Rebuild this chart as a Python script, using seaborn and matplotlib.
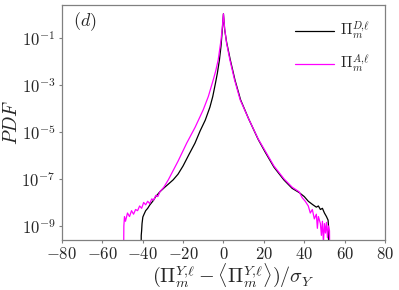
import numpy as np
import pandas as pd
import matplotlib
matplotlib.use("Agg")
import matplotlib.pyplot as plt
import seaborn as sns

# values (x in units of sigma_Y, PDF as log10)
x_D = [-40.8, -40.7, -40.5, -40.3, -39.9, -39.3, -38.5, -37.5, -36.4, -35.0,
       -33.5, -31.4, -29.0, -27.0, -24.9, -22.5, -20.0, -17.0, -14.1, -11.5,
       -9.0, -6.7, -5.3, -4.0, -3.0, -2.0, -1.2, -0.6, 0.0,
       0.6, 1.6, 3.4, 5.7, 8.5, 12.5, 17.2, 20.6, 25.0, 30.0, 34.0, 37.5,
       40.0, 42.0, 44.3, 46.0, 47.0, 48.0, 49.0, 50.0, 51.0, 51.8, 52.0, 52.1]
logpdf_D = [-11.0, -9.4, -9.2, -8.9, -8.62, -8.5, -8.35, -8.25, -8.1, -7.95,
            -7.75, -7.54, -7.35, -7.2, -7.04, -6.8, -6.45, -5.95, -5.48, -4.95,
            -4.5, -3.95, -3.5, -2.95, -2.5, -1.95, -1.35, -0.7, 0.02,
            -0.65, -1.2, -1.94, -2.79, -3.64, -4.45, -5.32, -5.85, -6.5, -7.05, -7.4, -7.58,
            -7.75, -7.95, -8.1, -8.2, -8.15, -8.3, -8.25, -8.45, -8.6, -8.75, -9.0, -11.0]

x_A = [-49.5, -49.3, -49.0, -48.5, -47.5, -46.5, -45.5, -44.5, -43.5, -42.5,
       -41.5, -40.5, -39.5, -38.5, -37.5, -36.5, -35.5, -34.5, -33.5, -32.5,
       -31.4, -29.5, -27.3, -22.5, -18.2, -14.0, -10.0, -7.5, -5.05, -3.8,
       -2.6, -1.2, -0.6, 0.0,
       0.6, 1.5, 3.2, 5.5, 8.3, 12.5, 17.2, 20.6, 25.0, 30.0, 34.0, 37.5,
       39.0, 40.5, 42.0, 43.0, 44.0, 45.0, 46.0, 46.5, 47.0, 48.0, 48.5, 49.0,
       49.5, 50.0, 50.5, 51.0, 51.5, 52.0, 52.5, 52.7]
logpdf_A = [-11.0, -9.0, -8.6, -8.8, -8.45, -8.6, -8.35, -8.5, -8.3, -8.35,
            -8.15, -8.25, -8.0, -8.1, -7.95, -8.05, -7.85, -7.9, -7.7, -7.75,
            -7.54, -7.35, -7.04, -6.25, -5.48, -4.8, -4.06, -3.5, -2.79, -2.4,
            -1.94, -1.1, -0.6, 0.02,
            -0.6, -1.2, -1.94, -2.79, -3.64, -4.45, -5.3, -5.8, -6.45, -7.0, -7.35, -7.55,
            -7.8, -7.95, -8.15, -8.45, -8.3, -8.7, -8.5, -9.1, -8.6, -8.9, -9.4, -8.8,
            -9.7, -8.9, -9.3, -8.85, -9.5, -9.0, -9.2, -11.0]

label_D = r"$\Pi_m^{D{,}\ell}$"
label_A = r"$\Pi_m^{A{,}\ell}$"
xticks = [-80, -60, -40, -20, 0, 20, 40, 60, 80]
yticks = [1e-1, 1e-3, 1e-5, 1e-7, 1e-9]
ytick_labels = [r"$10^{-1}$", r"$10^{-3}$", r"$10^{-5}$", r"$10^{-7}$", r"$10^{-9}$"]

df = pd.concat([
    pd.DataFrame({"x": x_D, "pdf": 10.0 ** np.array(logpdf_D), "series": label_D}),
    pd.DataFrame({"x": x_A, "pdf": 10.0 ** np.array(logpdf_A), "series": label_A}),
], ignore_index=True)

sns.set_style("white")
plt.rcParams["mathtext.fontset"] = "cm"
plt.rcParams["font.family"] = ["serif"]
plt.rcParams["font.serif"] = ["cmr10", "DejaVu Serif"]
plt.rcParams["axes.unicode_minus"] = False

fig = plt.figure(figsize=(3.99, 2.90), dpi=100)
ax = fig.add_axes([0.155, 0.172, 0.81, 0.811])

sns.lineplot(data=df, x="x", y="pdf", hue="series", estimator=None, sort=False,
             palette={label_D: "black", label_A: "#ff00ff"}, linewidth=0.9, ax=ax)

ax.set_yscale("log")
ax.set_xlim(-80, 80)
ax.set_ylim(2.5e-10, 2.5)
ax.set_xticks(xticks)
ax.set_xticklabels([f"${v}$" for v in xticks], fontsize=12)
ax.set_yticks(yticks)
ax.set_yticklabels(ytick_labels, fontsize=12)
ax.minorticks_off()
ax.tick_params(axis="both", direction="out", length=2.5, width=0.8, color="0.5",
               bottom=True, left=True, pad=2)
for s in ax.spines.values():
    s.set_color("0.5")
    s.set_linewidth(0.9)

ax.set_xlabel(r"$(\Pi_m^{Y{,}\ell}-\langle\Pi_m^{Y{,}\ell}\rangle)/\sigma_Y$", fontsize=14.5)
ax.xaxis.set_label_coords(0.53, -0.09)
ax.set_ylabel(r"$PDF$", fontsize=14)
ax.yaxis.set_label_coords(-0.125, 0.5)
ax.text(0.035, 0.93, r"$(d)$", transform=ax.transAxes, fontsize=13, va="center")

sns.move_legend(ax, "upper right", title="", frameon=False, fontsize=11,
                handlelength=2.55, handletextpad=0.35, labelspacing=0.7,
                borderaxespad=0.0, bbox_to_anchor=(0.972, 0.96))

fig.savefig("out.png", dpi=100)
